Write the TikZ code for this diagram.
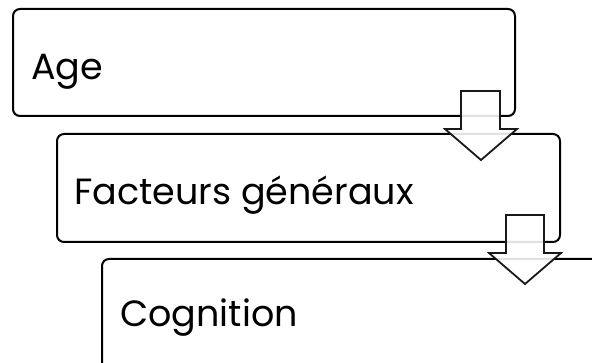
\documentclass[tikz,border=0pt]{standalone}
\usepackage{fontspec}
\setmainfont{Poppins}
\begin{document}
\begin{tikzpicture}[x=1pt,y=-1pt,
  stagebox/.style={draw=black,line width=2pt,rounded corners=7pt,fill=white},
  stagetext/.style={anchor=base west,inner sep=0pt,font=\fontsize{36.5}{42}\selectfont},
  downarrow/.style={draw=black!90,line width=1.8pt,fill=white,fill opacity=0.88,line join=miter}]
\useasboundingbox (0,0) rectangle (592,363);
\clip (0,0) rectangle (592,363);
% box 1
\draw[stagebox] (13,9) rectangle (515,116);
\node[stagetext] (t1) at (31,80) {Age};
% box 2
\draw[stagebox] (57,134) rectangle (560,242);
\node[stagetext] (t2) at (74,205) {Facteurs généraux};
% arrow 1
\draw[downarrow] (461,91) -- (500,91) -- (500,129) -- (517,129) -- (481,160) -- (445,129) -- (461,129) -- cycle;
% box 3
\draw[stagebox] (102,259) rectangle (640,400);
\node[stagetext] (t3) at (120,327) {Cognition};
% arrow 2
\draw[downarrow] (506,215) -- (544,215) -- (544,253) -- (561,253) -- (525,284) -- (489,253) -- (506,253) -- cycle;
\end{tikzpicture}
\end{document}
